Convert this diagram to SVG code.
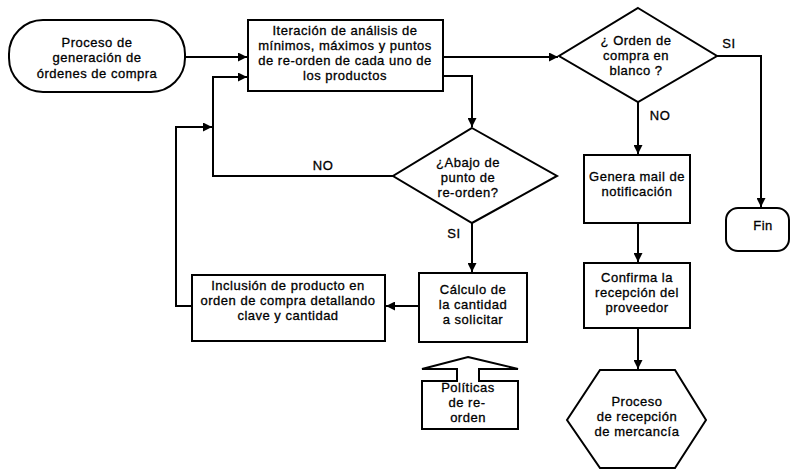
<svg xmlns="http://www.w3.org/2000/svg" width="791" height="470" viewBox="0 0 791 470">
  <style>
    .shape { fill: #fff; stroke: #000; stroke-width: 2; }
    .conn { fill: none; stroke: #000; stroke-width: 2; }
    text { font-family: "Liberation Sans", Arial, sans-serif; font-size: 13px; letter-spacing: 0.5px; fill: #000; stroke: #000; stroke-width: 0.3; text-anchor: middle; }
  </style>
  <defs>
    <marker id="arrow" viewBox="0 0 10 10" refX="10" refY="5" markerWidth="4.5" markerHeight="4.5" markerUnits="strokeWidth" orient="auto">
      <path d="M0,0 L10,5 L0,10 Z" fill="#000"/>
    </marker>
  </defs>

  <!-- connectors -->
  <g id="connectors">
    <path class="conn" d="M185,57 H247" marker-end="url(#arrow)"/>
    <path class="conn" d="M443,57 H558" marker-end="url(#arrow)"/>
    <path class="conn" d="M443,76 H472 V127" marker-end="url(#arrow)"/>
    <path class="conn" d="M393,176 H213 V77 H247" marker-end="url(#arrow)"/>
    <path class="conn" d="M192,306 H176 V127 H212" marker-end="url(#arrow)"/>
    <path class="conn" d="M472,223 V272" marker-end="url(#arrow)"/>
    <path class="conn" d="M419,306 H386" marker-end="url(#arrow)"/>
    <path class="conn" d="M717,56 H761 V207" marker-end="url(#arrow)"/>
    <path class="conn" d="M638,102 V154" marker-end="url(#arrow)"/>
    <path class="conn" d="M638,223 V262" marker-end="url(#arrow)"/>
    <path class="conn" d="M638,328 V369" marker-end="url(#arrow)"/>
    <text x="729" y="48">SI</text>
    <text x="660" y="120">NO</text>
    <text x="323" y="170">NO</text>
    <text x="454" y="238">SI</text>
  </g>

  <g id="start">
    <rect class="shape" x="9" y="20" width="176" height="72" rx="34" ry="34"/>
    <text x="97" y="47">Proceso de</text>
    <text x="97" y="62">generación de</text>
    <text x="97" y="78">órdenes de compra</text>
  </g>

  <g id="iteracion">
    <rect class="shape" x="248" y="20" width="195" height="71"/>
    <text x="345" y="35">Iteración  de análisis de</text>
    <text x="345" y="50">mínimos,  máximos y puntos</text>
    <text x="345" y="65">de re-orden de cada uno de</text>
    <text x="345" y="80">los productos</text>
  </g>

  <g id="abajo-punto">
    <polygon class="shape" points="472,128 557,176 472,223 393,176"/>
    <text x="468" y="167">¿Abajo de</text>
    <text x="468" y="182">punto de</text>
    <text x="468" y="197">re-orden?</text>
  </g>

  <g id="orden-blanco">
    <polygon class="shape" points="638,8 717,56 638,102 559,56"/>
    <text x="636" y="45">¿ Orden de</text>
    <text x="636" y="60">compra en</text>
    <text x="636" y="75">blanco ?</text>
  </g>

  <g id="calculo">
    <rect class="shape" x="419" y="273" width="108" height="69"/>
    <text x="473" y="294">Cálculo de</text>
    <text x="473" y="309">la cantidad</text>
    <text x="473" y="324">a solicitar</text>
  </g>

  <g id="inclusion">
    <rect class="shape" x="192" y="275" width="193" height="66"/>
    <text x="288" y="290">Inclusión de producto en</text>
    <text x="288" y="305">orden de compra detallando</text>
    <text x="288" y="320">clave y cantidad</text>
  </g>

  <g id="politicas">
    <polygon class="shape" points="468,357 518,369 479,369 479,381 518,381 518,429 422,429 422,381 457,381 457,369 422,369"/>
    <text x="468" y="392">Políticas</text>
    <text x="467" y="407">de  re-</text>
    <text x="468" y="422">orden</text>
  </g>

  <g id="genera-mail">
    <rect class="shape" x="584" y="155" width="106" height="68"/>
    <text x="637" y="181">Genera mail de</text>
    <text x="637" y="196">notificación</text>
  </g>

  <g id="confirma">
    <rect class="shape" x="584" y="263" width="106" height="65"/>
    <text x="637" y="282">Confirma la</text>
    <text x="637" y="297">recepción del</text>
    <text x="637" y="312">proveedor</text>
  </g>

  <g id="recepcion">
    <polygon class="shape" points="600,370 675,370 706,420 675,468 600,468 567,420"/>
    <text x="637" y="406">Proceso</text>
    <text x="637" y="421">de recepción</text>
    <text x="637" y="436">de mercancía</text>
  </g>

  <g id="fin">
    <rect class="shape" x="726" y="208" width="63" height="43" rx="12" ry="12"/>
    <text x="763" y="230">Fin</text>
  </g>
</svg>
